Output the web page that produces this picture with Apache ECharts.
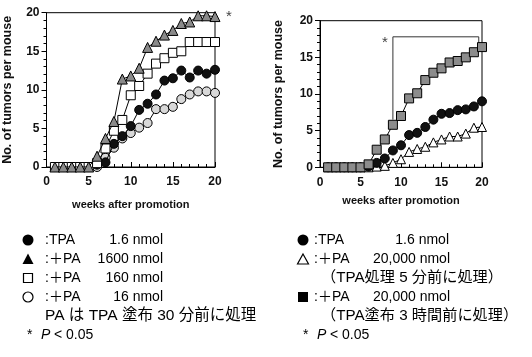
<!DOCTYPE html>
<html><head><meta charset="utf-8">
<script src="https://cdn.jsdelivr.net/npm/echarts@6/dist/echarts.min.js"></script>
<style>html,body{margin:0;padding:0;background:#fff}#c{width:532px;height:357px}</style>
</head><body><div id="c"></div>
<script>
const weeks = [1,2,3,4,5,6,7,8,9,10,11,12,13,14,15,16,17,18,19,20];
// Left chart
const L_tpa   = [0,0,0,0,0,0.3,0.6,3.0,4.0,5.3,7.4,8.2,9.4,11.2,11.5,12.5,11.6,12.5,12.1,12.6];
const L_pa1600= [0,0,0,0,0,1.4,3.7,5.9,11.4,11.8,12.8,15.5,16.3,17.1,17.7,18.6,18.8,19.6,19.6,19.5];
const L_pa160 = [0,0,0,0,0,0.5,2.4,4.7,6.1,9.3,10.5,12.1,13.4,14.1,14.8,15.0,16.2,16.2,16.2,16.2];
const L_pa16  = [0,0,0,0,0,0,1.2,2.5,3.7,4.4,5.1,5.7,7.5,7.5,7.8,8.8,9.4,9.8,9.8,9.6];
// Right chart
const R_tpa   = [0,0,0,0,0,0.1,0.6,1.2,2.3,3.0,4.4,4.7,5.5,6.5,7.3,7.4,7.8,7.9,8.3,9.0];
const R_pa5m  = [0,0,0,0,0,0,0.1,0.2,0.6,1.1,2.1,2.5,2.8,3.4,3.8,4.2,4.2,4.6,5.4,5.5];
const R_pa3h  = [0,0,0,0,0,0.4,2.4,3.8,5.8,7.0,9.4,10.1,11.9,12.9,13.5,14.3,14.5,15.0,15.7,16.4];
const R_bracket = [[9,6.5],[9,17.8],[19.6,17.8],[19.6,16.3]];
const xTicks = [0,5,10,15,20];
const yTicks = [0,5,10,15,20];

const F = "'Liberation Sans', Arial, 'Noto Sans CJK JP', sans-serif";
const pair = (arr) => weeks.map((w,i)=>[w,arr[i]]);

function xAx(gi, gap){
  return {gridIndex:gi, type:'value', min:0, max:20, interval:5,
    name:'weeks after promotion', nameLocation:'middle', nameGap:gap,
    nameTextStyle:{fontFamily:F, fontWeight:'bold', fontSize:11, color:'#111'},
    axisLine:{lineStyle:{color:'#000', width:1}},
    axisTick:{inside:true, length:5, lineStyle:{color:'#000'}},
    minorTick:{show:true, splitNumber:5, length:3, lineStyle:{color:'#000'}},
    axisLabel:{fontFamily:F, fontWeight:'bold', fontSize:12, color:'#111', margin:9,
      formatter:(v)=> xTicks.includes(v)? String(v):''},
    splitLine:{show:false}};
}
function yAx(gi, gap){
  return {gridIndex:gi, type:'value', min:0, max:20, interval:5,
    name:'No. of tumors per mouse', nameLocation:'middle', nameGap:gap,
    nameTextStyle:{fontFamily:F, fontWeight:'bold', fontSize:12.5, color:'#111'},
    axisLine:{show:true, lineStyle:{color:'#000', width:1}},
    axisTick:{show:true, inside:false, length:5, lineStyle:{color:'#000'}},
    minorTick:{show:true, splitNumber:5, length:3, lineStyle:{color:'#000'}},
    axisLabel:{fontFamily:F, fontWeight:'bold', fontSize:12, color:'#111', margin:7,
      formatter:(v)=> yTicks.includes(v)? String(v):''},
    splitLine:{show:false}};
}
function ser(gi, data, symbol, size, fill, z){
  return {type:'line', xAxisIndex:gi, yAxisIndex:gi, data:pair(data), symbol:symbol,
    symbolSize:size, showSymbol:true, z:z,
    lineStyle:{color:'#000', width:1}, itemStyle:{color:fill, borderColor:'#000', borderWidth:1},
    animation:false, silent:true};
}

const legendGraphics = [];
function txt(x,y,t,opt){
  legendGraphics.push({type:'text', x:x, y:y, style:Object.assign({text:t, font:'14px '+F, fill:'#000', textVerticalAlign:'middle', verticalAlign:'middle'}, opt||{})});
}
// left legend
const LY = [240,259,278,297,316,335];
legendGraphics.push({type:'circle', shape:{cx:28, cy:LY[0], r:5.5}, style:{fill:'#000'}});
legendGraphics.push({type:'polygon', shape:{points:[[28,LY[1]-5.5],[33.5,LY[1]+5],[22.5,LY[1]+5]]}, style:{fill:'#000'}});
legendGraphics.push({type:'rect', shape:{x:23.5, y:LY[2]-4.5, width:9, height:9}, style:{fill:'#fff', stroke:'#000', lineWidth:1.2}});
legendGraphics.push({type:'circle', shape:{cx:28, cy:LY[3], r:5}, style:{fill:'#fff', stroke:'#000', lineWidth:1.2}});
txt(45,LY[0],':TPA'); txt(163,LY[0],'1.6 nmol',{textAlign:'right', align:'right'});
txt(45,LY[1],':＋PA'); txt(163,LY[1],'1600 nmol',{textAlign:'right', align:'right'});
txt(45,LY[2],':＋PA'); txt(163,LY[2],'160 nmol',{textAlign:'right', align:'right'});
txt(45,LY[3],':＋PA'); txt(163,LY[3],'16 nmol',{textAlign:'right', align:'right'});
txt(45,LY[4],'PA は TPA 塗布 30 分前に処理',{font:'15.5px '+F});
txt(27,LY[5],'*'); txt(41,LY[5],'P',{font:'italic 14px '+F}); txt(54,LY[5],'<'); txt(66,LY[5],'0.05');
// right legend
const RX = 303;
legendGraphics.push({type:'circle', shape:{cx:RX, cy:LY[0], r:5.5}, style:{fill:'#000'}});
legendGraphics.push({type:'polygon', shape:{points:[[RX,LY[1]-5],[RX+5.5,LY[1]+5],[RX-5.5,LY[1]+5]]}, style:{fill:'#fff', stroke:'#000', lineWidth:1.2}});
legendGraphics.push({type:'rect', shape:{x:RX-5, y:LY[3]-5, width:10, height:10}, style:{fill:'#000'}});
txt(314,LY[0],':TPA'); txt(449,LY[0],'1.6 nmol',{textAlign:'right', align:'right'});
txt(314,LY[1],':＋PA'); txt(450,LY[1],'20,000 nmol',{textAlign:'right', align:'right'});
txt(321,LY[2],'（TPA処理 5 分前に処理）',{font:'15.2px '+F});
txt(314,LY[3],':＋PA'); txt(450,LY[3],'20,000 nmol',{textAlign:'right', align:'right'});
txt(321,LY[4],'（TPA塗布 3 時間前に処理）',{font:'15.2px '+F});
txt(303,LY[5],'*'); txt(317,LY[5],'P',{font:'italic 14px '+F}); txt(330,LY[5],'<'); txt(342,LY[5],'0.05');
// asterisks on plots
legendGraphics.push({type:'text', x:229, y:17, style:{text:'*', font:'15px '+F, fill:'#444', textAlign:'center', align:'center', textVerticalAlign:'middle', verticalAlign:'middle'}});
legendGraphics.push({type:'text', x:385, y:43, style:{text:'*', font:'15px '+F, fill:'#444', textAlign:'center', align:'center', textVerticalAlign:'middle', verticalAlign:'middle'}});

const chart = echarts.init(document.getElementById('c'), null, {renderer:'canvas'});
chart.setOption({
  animation:false,
  backgroundColor:'#fff',
  grid:[
    {left:42, right:317, top:12.7, bottom:190, show:true, borderColor:'#000', borderWidth:1, backgroundColor:'transparent'},
    {left:320, right:50, top:20.7, bottom:189.7, show:true, borderColor:'#000', borderWidth:1, backgroundColor:'transparent'}
  ],
  xAxis:[xAx(0,32), xAx(1,28)],
  yAxis:[yAx(0,33), yAx(1,35)],
  series:[
    ser(0, L_pa16, 'circle', 9, '#d8d8d8', 2),
    ser(0, L_tpa, 'circle', 9, '#111', 3),
    ser(0, L_pa160, 'rect', 9, '#fff', 4),
    ser(0, L_pa1600, 'triangle', 10, '#8a8a8a', 5),
    {type:'line', xAxisIndex:1, yAxisIndex:1, data:R_bracket, symbol:'none', z:1,
      lineStyle:{color:'#333', width:1}, animation:false, silent:true},
    ser(1, R_pa5m, 'triangle', 9, '#fff', 2),
    ser(1, R_tpa, 'circle', 9, '#111', 3),
    ser(1, R_pa3h, 'rect', 9, '#8c8c8c', 4)
  ],
  graphic: legendGraphics
});
</script></body></html>
